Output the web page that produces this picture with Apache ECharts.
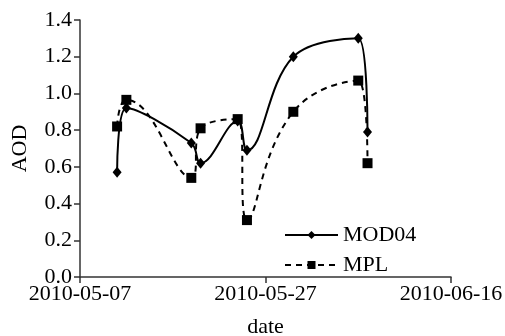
<!DOCTYPE html>
<html><head><meta charset="utf-8">
<script src="https://cdn.jsdelivr.net/npm/echarts@6/dist/echarts.min.js"></script>
<style>html,body{margin:0;padding:0;background:#fff}#c{width:505px;height:336px}</style>
</head><body><div id="c"></div>
<script>
const dates = ['2010-05-11','2010-05-12','2010-05-19','2010-05-20','2010-05-24','2010-05-25','2010-05-30','2010-06-06','2010-06-07'];
const mod04 = [0.57, 0.92, 0.73, 0.62, 0.85, 0.69, 1.20, 1.30, 0.79];
const mpl = [0.82, 0.965, 0.54, 0.81, 0.86, 0.31, 0.90, 1.07, 0.62];
const xMin = '2010-05-07', xMax = '2010-06-16';
const DAY = 86400000;
function ts(s){const p=s.split('-').map(Number);return Date.UTC(p[0],p[1]-1,p[2]);}
function fmt(v){const d=new Date(v);const p=n=>String(n).padStart(2,'0');return d.getUTCFullYear()+'-'+p(d.getUTCMonth()+1)+'-'+p(d.getUTCDate());}
const font = 'Liberation Serif';
const FS = 22;
const chart = echarts.init(document.getElementById('c'));
chart.setOption({
  animation:false,
  textStyle:{fontFamily:font,color:'#000'},
  grid:{left:80,right:54,top:20,bottom:59,outerBoundsMode:'none',containLabel:false},
  legend:{orient:'vertical',left:279,top:219,itemWidth:53,itemHeight:10,itemGap:8,
    textStyle:{fontFamily:font,fontSize:FS,color:'#000'},
    data:['MOD04','MPL']},
  xAxis:{type:'value',min:ts(xMin),max:ts(xMax),interval:20*DAY,
    name:'date',nameLocation:'middle',nameGap:39,
    nameTextStyle:{fontFamily:font,fontSize:FS,color:'#000'},
    axisLine:{lineStyle:{color:'#333',width:1.5}},
    axisTick:{show:true,inside:false,length:6,lineStyle:{color:'#333',width:1.5}},
    axisLabel:{fontFamily:font,fontSize:FS,color:'#000',margin:6,formatter:fmt,hideOverlap:false,showMaxLabel:true,showMinLabel:true},
    splitLine:{show:false}},
  yAxis:{type:'value',min:0,max:1.4,interval:0.2,
    name:'AOD',nameLocation:'middle',nameGap:49,nameRotate:90,
    nameTextStyle:{fontFamily:font,fontSize:FS,color:'#000'},
    axisLine:{show:true,lineStyle:{color:'#333',width:1.5}},
    axisTick:{show:true,length:6,lineStyle:{color:'#333',width:1.5}},
    axisLabel:{fontFamily:font,fontSize:FS,color:'#000',margin:8,formatter:v=>v.toFixed(1)},
    splitLine:{show:false}},
  series:[
    {name:'MOD04',type:'line',smooth:0.4,data:dates.map((d,i)=>[ts(d),mod04[i]]),
      symbol:'diamond',symbolSize:[9,11],
      lineStyle:{color:'#000',width:2,type:'solid'},itemStyle:{color:'#000'}},
    {name:'MPL',type:'line',smooth:0.5,data:dates.map((d,i)=>[ts(d),mpl[i]]),
      symbol:'rect',symbolSize:10,
      lineStyle:{color:'#000',width:2,type:[6,5]},itemStyle:{color:'#000'}}
  ]
});
</script></body></html>
